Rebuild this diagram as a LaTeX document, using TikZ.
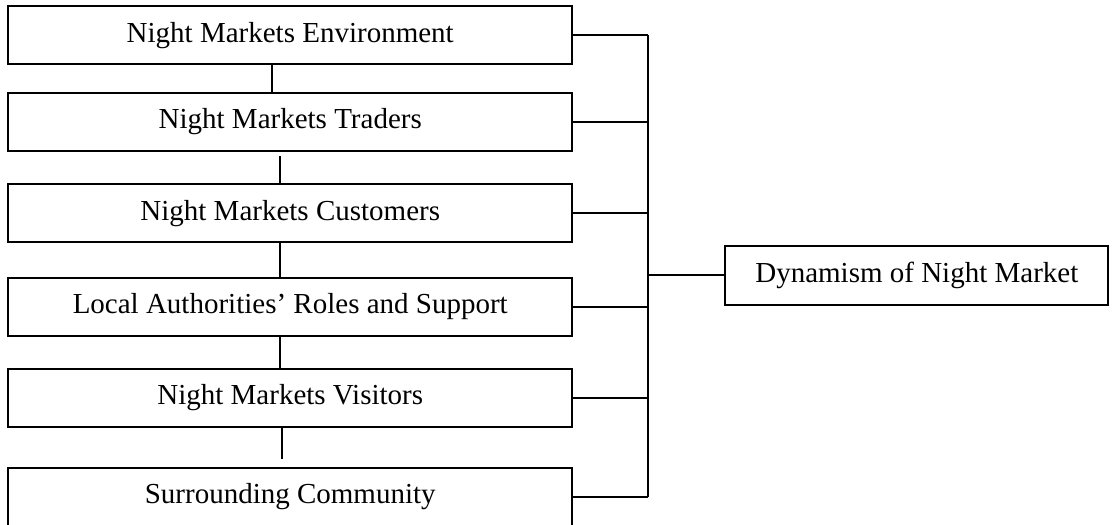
\documentclass[tikz,border=0pt]{standalone}
\usepackage{fontspec}
\setmainfont{Liberation Serif}
\usepackage{tikz}
\usetikzlibrary{positioning}

\begin{document}
\begin{tikzpicture}[line width=1pt,
    factor/.style={draw, minimum width=9.91cm, minimum height=1.02cm, inner sep=0pt,
        font=\fontsize{14.5}{17}\selectfont},
    outcome/.style={draw, minimum width=6.73cm, minimum height=1.04cm, inner sep=0pt,
        font=\fontsize{14.5}{17}\selectfont}]
\useasboundingbox (0,0) rectangle (19.61,-9.21);

\node[factor] (env) at (5.10,-0.62) {Night Markets Environment};
\node[factor] (traders) at (5.10,-2.14) {Night Markets Traders};
\node[factor] (customers) at (5.10,-3.75) {Night Markets Customers};
\node[factor] (authorities) at (5.10,-5.39) {Local Authorities' Roles and Support};
\node[factor] (visitors) at (5.10,-6.99) {Night Markets Visitors};
\node[factor] (community) at (5.10,-8.73) {Surrounding Community};

\node[outcome] (dynamism) at (16.11,-4.84) {Dynamism of Night Market};

\coordinate (bus) at (11.39,0);

% chain down the left column
\draw ([xshift=-0.32cm]env.south) -- ([xshift=-0.32cm]traders.north);
\draw[shorten <=0.07cm] ([xshift=-0.18cm]traders.south) -- ([xshift=-0.18cm]customers.north);
\draw ([xshift=-0.18cm]customers.south) -- ([xshift=-0.18cm]authorities.north);
\draw ([xshift=-0.18cm]authorities.south) -- ([xshift=-0.18cm]visitors.north);
\draw[shorten >=0.14cm] ([xshift=-0.15cm]visitors.south) -- ([xshift=-0.15cm]community.north);

% stubs into the bus
\foreach \f in {env,traders,customers,authorities,visitors,community}
    \draw (\f.east) -- (\f.east -| bus);
\draw (env.east -| bus) -- (community.east -| bus);
\draw (dynamism.west) -- (dynamism.west -| bus);

\end{tikzpicture}
\end{document}
